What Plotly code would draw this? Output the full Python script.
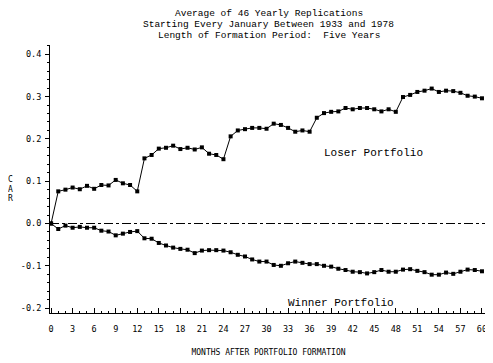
import plotly.graph_objects as go

months = list(range(0, 61))
loser_car = [0.000, 0.076, 0.080, 0.085, 0.081, 0.089, 0.082, 0.091, 0.090, 0.103,
             0.095, 0.091, 0.076, 0.154, 0.162, 0.177, 0.179, 0.184, 0.176, 0.179,
             0.175, 0.180, 0.165, 0.162, 0.152, 0.206, 0.220, 0.223, 0.226, 0.226,
             0.224, 0.236, 0.233, 0.226, 0.217, 0.220, 0.217, 0.250, 0.261, 0.264,
             0.265, 0.273, 0.270, 0.273, 0.273, 0.270, 0.265, 0.270, 0.264, 0.299,
             0.304, 0.311, 0.314, 0.319, 0.311, 0.314, 0.313, 0.309, 0.302, 0.300,
             0.296]
winner_car = [0.000, -0.013, -0.005, -0.010, -0.008, -0.010, -0.010, -0.017, -0.019, -0.028,
              -0.024, -0.020, -0.018, -0.035, -0.036, -0.046, -0.052, -0.057, -0.060, -0.062,
              -0.070, -0.064, -0.063, -0.063, -0.064, -0.068, -0.074, -0.078, -0.085, -0.090,
              -0.090, -0.098, -0.100, -0.094, -0.090, -0.093, -0.096, -0.096, -0.100, -0.102,
              -0.107, -0.110, -0.114, -0.115, -0.118, -0.115, -0.110, -0.114, -0.114, -0.109,
              -0.108, -0.112, -0.115, -0.121, -0.121, -0.116, -0.119, -0.114, -0.109, -0.110,
              -0.113]
x_ticks = list(range(0, 61, 3))
y_ticks = [-0.2, -0.1, 0.0, 0.1, 0.2, 0.3, 0.4]
y_tick_text = ["-0.2", "-0.1", "0.0", "0.1", "0.2", "0.3", "0.4"]
title_lines = ["Average of 46 Yearly Replications",
               "Starting Every January Between 1933 and 1978",
               "Length of Formation Period:  Five Years"]
y_axis_letters = ["C", "A", "R"]

mono = "Liberation Mono"
tickfont = dict(family="DejaVu Sans Mono", size=8.5, color="black")

fig = go.Figure()
fig.add_trace(go.Scatter(x=months, y=loser_car, mode="lines+markers",
                         line=dict(color="black", width=1),
                         marker=dict(symbol="square", size=4, color="black"),
                         showlegend=False))
fig.add_trace(go.Scatter(x=months, y=winner_car, mode="lines+markers",
                         line=dict(color="black", width=1),
                         marker=dict(symbol="square", size=4, color="black"),
                         showlegend=False))

fig.add_shape(type="line", xref="paper", yref="y", x0=0, x1=1, y0=0, y1=0,
              line=dict(color="black", width=1, dash="dashdot"))

for i, t in enumerate(title_lines):
    fig.add_annotation(text=t, xref="paper", yref="paper", x=0.5,
                       y=1.119 - 0.041 * i, yanchor="middle", showarrow=False,
                       font=dict(family=mono, size=9.5, color="black"))

fig.add_annotation(text="Loser Portfolio", x=44.9, y=0.167, showarrow=False,
                   font=dict(family=mono, size=11, color="black"))
fig.add_annotation(text="Winner Portfolio", x=40.4, y=-0.187, showarrow=False,
                   font=dict(family=mono, size=11, color="black"))
for i, letter in enumerate(y_axis_letters):
    fig.add_annotation(text=letter, xref="paper", yref="y", x=-0.09,
                       y=0.104 - 0.023 * i, xanchor="center", yanchor="middle",
                       showarrow=False,
                       font=dict(family="DejaVu Sans Mono", size=8, color="black"))

# the page body adds an 8px offset, so the figure is sized to the remaining area
fig.update_layout(
    width=485, height=355,
    margin=dict(l=42, r=6, t=37, b=50),
    plot_bgcolor="white", paper_bgcolor="white",
    xaxis=dict(range=[-0.15, 60.7], tickmode="array", tickvals=x_ticks,
               ticktext=[str(v) for v in x_ticks],
               showgrid=False, zeroline=False, showline=True, linecolor="black",
               linewidth=1, ticks="inside", ticklen=5, tickcolor="black",
               minor=dict(dtick=1, ticks="inside", ticklen=2, tickcolor="black"),
               ticklabeloverflow="allow", ticklabelstandoff=8, tickfont=tickfont,
               title=dict(text="MONTHS AFTER PORTFOLIO FORMATION",
                          font=dict(family="DejaVu Sans Mono", size=8, color="black"),
                          standoff=16)),
    yaxis=dict(range=[-0.2116, 0.422], tickmode="array", tickvals=y_ticks,
               ticktext=y_tick_text,
               showgrid=False, zeroline=False, showline=True, linecolor="black",
               linewidth=1, ticks="outside", ticklen=4, tickcolor="black",
               minor=dict(dtick=0.02, ticks="outside", ticklen=2, tickcolor="black"),
               ticklabelstandoff=2, tickfont=tickfont),
)

fig.write_html("out.html")
